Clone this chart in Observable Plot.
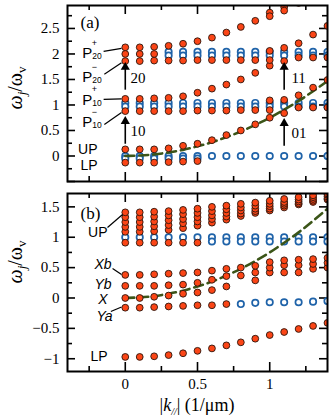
<!DOCTYPE html>
<html><head><meta charset="utf-8">
<script src="https://cdn.jsdelivr.net/npm/d3@7"></script>
<script src="https://cdn.jsdelivr.net/npm/@observablehq/plot@0.6"></script>
<style>
body{margin:0;background:#fff;}
#chart{width:332px;height:418px;}
#chart svg{display:block;}
</style></head><body><div id="chart"></div>
<script>
const _ = null;
const kVals = [0,0.1,0.2,0.3,0.4,0.5,0.6,0.7,0.8,0.9,1.0,1.1,1.2,1.3,1.4];

// ---- Panel (a): red (filled) branches
const aLP    = [-0.13,-0.13,-0.13,-0.12,-0.11,-0.10,_,_,_,_,_,_,_,_,_];
const aUP    = [0.13,0.13,0.13,0.15,0.20,0.24,0.31,0.41,0.50,0.62,0.75,0.84,0.95,0.95,0.95];
const aUPhi  = [_,_,_,_,_,_,_,_,_,_,1.09,1.10,1.19,1.34,1.49];
const aP10m  = [0.88,0.88,0.88,0.88,0.88,0.89,0.89,0.89,0.90,0.90,0.90,_,_,_,_];
const aP10p  = [1.12,1.12,1.13,1.14,1.17,1.24,1.32,1.40,1.50,1.63,1.77,1.86,1.93,1.93,1.93];
const aP10hi = [_,_,_,_,_,_,_,_,_,_,2.06,2.12,2.21,2.38,2.55];
const aP20m  = [1.86,1.86,1.87,1.87,1.87,1.88,1.88,1.88,1.88,1.88,1.88,_,_,_,_];
const aP20p  = [2.13,2.13,2.14,2.16,2.20,2.25,2.32,2.42,2.53,2.65,2.81,2.92,3.00,_,_];
const aP20q  = [_,_,_,_,_,_,_,_,_,_,2.74,2.85,_,_,_];
const aMid2  = [2.00,2.00,2.00,_,_,_,_,_,_,_,_,_,_,_,_];
// Panel (a): blue (open) modes
const aB0a = [0,0,0,0,0,0,0,0,0,0,0,0,0,0,0];
const aB0b = [-0.05,-0.05,-0.05,-0.05,-0.05,-0.05,_,_,_,_,_,_,_,_,_];
const aB1a = [1.04,1.04,1.04,1.04,1.04,1.04,1.04,1.04,1.04,1.04,1.04,1.04,1.04,1.04,1.04];
const aB1b = [0.97,0.97,0.97,0.97,0.97,0.97,0.97,0.97,0.97,0.97,0.97,0.97,0.97,0.97,0.97];
const aB2a = [_,_,_,2.04,2.04,2.04,2.04,2.04,2.04,2.04,2.04,2.04,2.04,2.04,2.04];
const aB2b = [_,_,_,1.97,1.97,1.97,1.97,1.97,1.97,1.97,1.97,1.97,1.97,1.97,1.97];

// ---- Panel (b): red (filled) branches
const bLP = [-0.97,-0.97,-0.96,-0.94,-0.91,-0.87,-0.83,-0.78,-0.73,-0.67,-0.61,-0.56,-0.51,-0.46,-0.41];
const bYa = [-0.16,-0.16,-0.15,-0.14,-0.13,-0.12,-0.12,-0.10,_,_,_,_,_,_,_];
const bX  = [0.00,0.00,0.02,0.04,0.07,0.09,0.13,0.19,_,0.29,0.42,0.42,0.42,0.48,0.50];
const bYb = [0.20,0.20,0.20,0.21,0.22,0.25,0.30,0.36,0.37,0.42,0.50,0.54,0.54,0.56,0.58];
const bXb = [0.38,0.38,0.39,0.40,0.41,0.42,0.45,0.48,0.50,0.53,0.59,0.62,0.63,0.64,0.66];
const bR1 = [0.91,0.91,0.91,0.91,0.91,0.91,_,_,_,_,_,_,_,_,_];
const bU1 = [1.41,1.41,1.42,1.43,1.45,1.47,1.50,1.52,1.55,1.57,1.60,1.63,1.66,1.69,1.72];
const bU2 = [1.33,1.33,1.34,1.36,1.38,1.40,1.43,1.46,1.49,1.52,1.55,1.58,1.62,1.66,1.70];
const bU3 = [1.25,1.25,1.26,1.28,1.30,1.33,1.36,1.40,1.44,1.47,1.51,1.55,1.59,1.63,1.67];
const bU4 = [1.17,1.17,1.18,1.20,1.23,1.26,1.30,1.34,1.39,1.43,1.47,1.52,1.56,1.60,1.64];
const bU5 = [1.09,1.09,1.10,1.12,1.15,1.19,1.24,1.29,1.35,1.40,1.44,1.49,1.54,1.58,1.62];
// Panel (b): blue (open) modes
const bB1a = [1.00,1.00,1.00,1.00,1.00,1.00,1.00,1.00,1.00,1.00,1.00,1.00,1.00,1.00,1.00];
const bB1b = [_,_,_,_,_,_,0.93,0.93,0.93,0.93,0.93,0.93,0.93,0.93,0.93];
const bBX  = [_,_,_,_,_,_,_,_,-0.10,-0.08,-0.07,-0.07,-0.07,-0.06,-0.05];

// bare photon dispersion (dashed)
const photonV = [0,0.01,0.03,0.07,0.12,0.19,0.27,0.37,0.48,0.61,0.75,0.91,1.08,1.27,1.47];

// tick values
const xMajor = [0,0.5,1], xMinor = [-0.25,0.25,0.75,1.25];
const xLabels = [0,0.5,1];
const aYMajor = [-0.5,0,0.5,1,1.5,2,2.5], aYMinor = [-0.25,0.25,0.75,1.25,1.75,2.25,2.75];
const aYLabels = [0,0.5,1,1.5,2,2.5];
const bYMajor = [-1,-0.5,0,0.5,1,1.5], bYMinor = [-0.75,-0.25,0.25,0.75,1.25];
const bYLabels = [-1,-0.5,0,0.5,1,1.5];

// annotations
const aTexts = [{k:-0.31,v:2.62,t:"(a)"}];
const aNums = [{k:0.037,v:1.52,t:"20"},{k:0.037,v:0.48,t:"10"},{k:1.15,v:1.52,t:"11"},{k:1.15,v:0.44,t:"01"}];
const aArrows = [{k:0,v1:1.30,v2:1.74},{k:0,v1:0.24,v2:0.68},{k:1.1,v1:1.30,v2:1.74},{k:1.1,v1:0.20,v2:0.64}];
const aP = [{k:-0.298,v:2.01,sup:"+",sub:"20"},{k:-0.298,v:1.54,sup:"\u2212",sub:"20"},{k:-0.298,v:1.10,sup:"+",sub:"10"},{k:-0.298,v:0.66,sup:"\u2212",sub:"10"}];
const aPol = [{k:-0.192,v:0.127,t:"UP"},{k:-0.192,v:-0.186,t:"LP"}];
const aLeaders = [{k1:-0.15,v1:2.05,k2:-0.026,v2:2.11},{k1:-0.145,v1:1.60,k2:-0.026,v2:1.83},{k1:-0.15,v1:1.108,k2:-0.026,v2:1.118},{k1:-0.145,v1:0.618,k2:-0.026,v2:0.853}];

const bTexts = [{k:-0.31,v:1.39,t:"(b)"}];
const bPol = [{k:-0.123,v:1.078,t:"UP"},{k:-0.123,v:-0.963,t:"LP"}];
const bExc = [{k:-0.095,v:0.545,m:"X",s:"b"},{k:-0.095,v:0.215,m:"Y",s:"b"},{k:-0.123,v:-0.03,m:"X",s:""},{k:-0.088,v:-0.30,m:"Y",s:"a"}];
const bLeaders = [{k1:-0.123,v1:1.16,k2:-0.019,v2:1.374},{k1:-0.088,v1:0.486,k2:-0.026,v2:0.387},{k1:-0.1,v1:-0.222,k2:-0.026,v2:-0.148}];

const serif = "'Liberation Serif','Times New Roman',serif";
const sans = "'Liberation Sans',Arial,Helvetica,sans-serif";
const RED = "#fb4516", RED_STROKE = "#2a150c", BLUE = "#1f63a9", GREEN = "#3b5518";
const W = 332, ML = 67, MR = 5, FW = W - ML - MR;

const rows = arr => arr.map((v,i)=>({k:kVals[i], v})).filter(d=>d.v!=null);
const many = list => list.flatMap(rows);
const photon = rows(photonV);
const fmt = d => (d<0 ? "\u2212" : "") + String(Math.abs(d));

function tickMarks(yMajor, yMinor, fh){
  const sw = 1.6;
  return [
    Plot.tickY(yMajor, {y:d=>d, insetRight:FW-8, strokeWidth:sw}),
    Plot.tickY(yMajor, {y:d=>d, insetLeft:FW-8, strokeWidth:sw}),
    Plot.tickY(yMinor, {y:d=>d, insetRight:FW-5, strokeWidth:sw}),
    Plot.tickY(yMinor, {y:d=>d, insetLeft:FW-5, strokeWidth:sw}),
    Plot.tickX(xMajor, {x:d=>d, insetTop:fh-9, strokeWidth:sw}),
    Plot.tickX(xMajor, {x:d=>d, insetBottom:fh-9, strokeWidth:sw}),
    Plot.tickX(xMinor, {x:d=>d, insetTop:fh-5, strokeWidth:sw}),
    Plot.tickX(xMinor, {x:d=>d, insetBottom:fh-5, strokeWidth:sw})
  ];
}
const blueDots = data => Plot.dot(data, {x:"k", y:"v", r:3.2, fill:"white", stroke:BLUE, strokeWidth:1.7, clip:true});
const redDots = data => Plot.dot(data, {x:"k", y:"v", r:3.4, fill:RED, stroke:RED_STROKE, strokeWidth:0.9, clip:true});
const dashed = () => Plot.line(photon, {x:"k", y:"v", curve:"natural", stroke:GREEN, strokeWidth:2.6, strokeDasharray:"9,5", clip:true});
const arrowMarks = data => [
  Plot.link(data, {x1:"k", y1:"v1", x2:"k", y2:"v2", stroke:"black", strokeWidth:1.6}),
  Plot.dot(data, {x:"k", y:"v2", symbol:"triangle", r:3.4, fill:"black", stroke:"none"})
];

function addYLabel(svg, cy){
  const t = d3.select(svg).append("text")
    .attr("transform", `translate(22,${cy}) rotate(-90)`)
    .attr("text-anchor","middle")
    .attr("font-family", serif).attr("font-size", 20).attr("fill","black");
  t.append("tspan").attr("font-style","italic").text("\u03c9");
  t.append("tspan").attr("font-style","italic").attr("font-size",13).attr("dy",4).text("j");
  t.append("tspan").attr("dy",-4).text("/\u03c9");
  t.append("tspan").attr("font-size",13).attr("dy",4).text("v");
}

// ---------- Panel a
const aH = 186, aMT = 5, aMB = 5, aFH = aH - aMT - aMB;
const plotA = Plot.plot({
  width: W, height: aH, marginLeft: ML, marginRight: MR, marginTop: aMT, marginBottom: aMB,
  x: {domain:[-0.4,1.4], axis:null},
  y: {domain:[-0.5,2.95]},
  style: {fontFamily: serif, fontSize:"15px", background:"white", color:"black"},
  marks: [
    Plot.axisY({ticks:aYLabels, tickSize:0, tickPadding:8, tickFormat:fmt, label:null, fontSize:15}),
    ...tickMarks(aYMajor, aYMinor, aFH),
    blueDots(many([aB0a,aB0b,aB1a,aB1b,aB2a,aB2b])),
    dashed(),
    redDots(many([aLP,aUP,aUPhi,aP10m,aP10p,aP10hi,aP20m,aP20p,aP20q,aMid2])),
    Plot.link(aLeaders, {x1:"k1", y1:"v1", x2:"k2", y2:"v2", stroke:"black", strokeWidth:1.2}),
    ...arrowMarks(aArrows),
    Plot.text(aTexts, {x:"k", y:"v", text:"t", textAnchor:"start", fontSize:17, fontFamily:serif}),
    Plot.text(aNums, {x:"k", y:"v", text:"t", textAnchor:"start", fontSize:15, fontFamily:serif}),
    Plot.text(aP, {x:"k", y:"v", text:()=>"P", textAnchor:"start", fontSize:15, fontFamily:sans}),
    Plot.text(aP, {x:"k", y:"v", text:"sup", textAnchor:"start", fontSize:9, fontFamily:sans, dx:9.5, dy:-10.5}),
    Plot.text(aP, {x:"k", y:"v", text:"sub", textAnchor:"start", fontSize:8.5, fontFamily:sans, dx:10, dy:3}),
    Plot.text(aPol, {x:"k", y:"v", text:"t", textAnchor:"end", fontSize:14, fontFamily:sans}),
    Plot.frame({stroke:"black", strokeWidth:2})
  ]
});
addYLabel(plotA, 88);

// ---------- Panel b
const bH = 232, bMT = 7, bMB = 47, bFH = bH - bMT - bMB;
const plotB = Plot.plot({
  width: W, height: bH, marginLeft: ML, marginRight: MR, marginTop: bMT, marginBottom: bMB,
  x: {domain:[-0.4,1.4]},
  y: {domain:[-1.21,1.72]},
  style: {fontFamily: serif, fontSize:"15px", background:"white", color:"black"},
  marks: [
    Plot.axisY({ticks:bYLabels, tickSize:0, tickPadding:8, tickFormat:fmt, label:null, fontSize:15}),
    Plot.axisX({ticks:xLabels, tickSize:0, tickPadding:7, tickFormat:fmt, label:null, fontSize:15}),
    ...tickMarks(bYMajor, bYMinor, bFH),
    blueDots(many([bB1a,bB1b,bBX])),
    dashed(),
    redDots(many([bLP,bYa,bX,bYb,bXb,bR1,bU5,bU4,bU3,bU2,bU1])),
    Plot.link(bLeaders, {x1:"k1", y1:"v1", x2:"k2", y2:"v2", stroke:"black", strokeWidth:1.2}),
    Plot.text(bTexts, {x:"k", y:"v", text:"t", textAnchor:"start", fontSize:17, fontFamily:serif}),
    Plot.text(bPol, {x:"k", y:"v", text:"t", textAnchor:"end", fontSize:14, fontFamily:sans}),
    Plot.text(bExc, {x:"k", y:"v", text:d=>d.m+d.s, textAnchor:"end", fontSize:14, fontFamily:sans, fontStyle:"italic"}),
    Plot.frame({stroke:"black", strokeWidth:2})
  ]
});
addYLabel(plotB, 76);
// x-axis label
{
  const t = d3.select(plotB).append("text")
    .attr("x", 197).attr("y", 225).attr("text-anchor","middle")
    .attr("font-family", serif).attr("font-size", 18).attr("fill","black");
  t.append("tspan").text("|");
  t.append("tspan").attr("font-style","italic").text("k");
  t.append("tspan").attr("font-style","italic").attr("font-size",10).attr("dy",4).text("//");
  t.append("tspan").attr("dy",-4).text("| (1/\u03bcm)");
}
document.getElementById("chart").append(plotA, plotB);
</script>
</body></html>
